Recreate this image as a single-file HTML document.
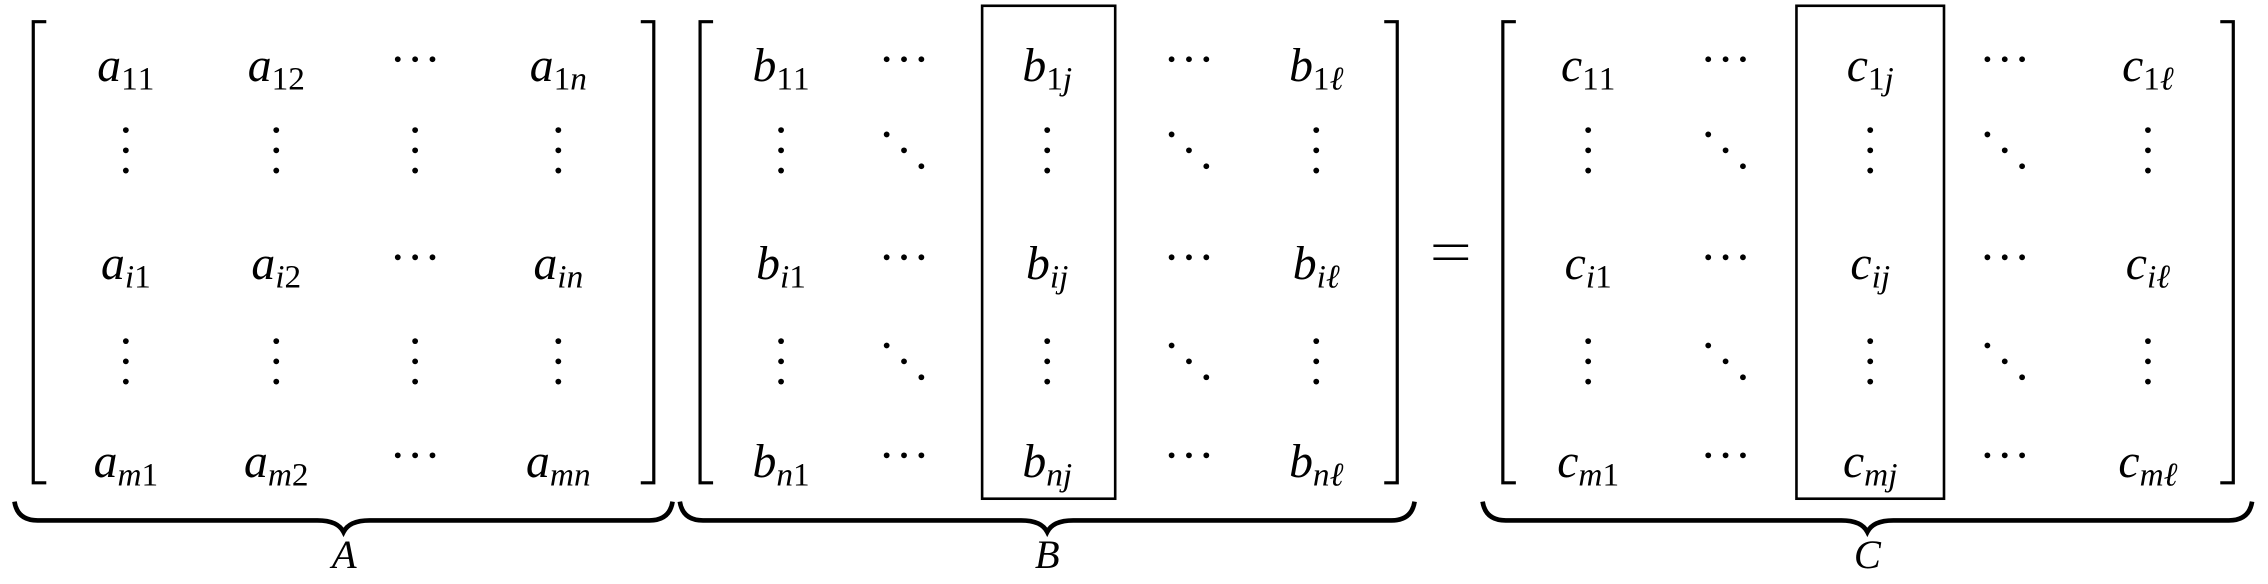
<!DOCTYPE html>
<html><head><meta charset="utf-8"><style>
html,body{margin:0;padding:0;background:#fff;}
svg{display:block;}
text{font-family:"Liberation Serif",serif;font-style:italic;fill:#000;}
.up{font-style:normal;}
</style></head><body>
<svg id="s" width="2268" height="584" viewBox="0 0 1568 404" preserveAspectRatio="none" xmlns="http://www.w3.org/2000/svg"></svg>
<script>
const NS="http://www.w3.org/2000/svg";
const svg=document.getElementById('s');
const rowsY=[56,193,330];
const vdotsY=[104,250];
function el(tag,attrs,parent){const e=document.createElementNS(NS,tag);for(const k in attrs)e.setAttribute(k,attrs[k]);(parent||svg).appendChild(e);return e;}
function entry(cx,y,main,sub,name){
  const t=el('text',{x:cx,y:y,'text-anchor':'middle','font-size':33});
  
  
  t.appendChild(document.createTextNode(main));
  let first=true;
  for(const ch of sub){
    const a={'font-size':23};
    if(first){a.dy=6;first=false;}
    if(/[0-9]/.test(ch))a['class']='up';
    const ts=el('tspan',a,t);
    ts.textContent=ch;
  }
}
function cdots(cx,y){
  const g=el('g',{});
  
  
  for(let i=-1;i<=1;i++)el('circle',{cx:cx+i*12,cy:y-15,r:2},g);
}
function vdots(cx,y){
  const g=el('g',{});
  
  
  for(let i=-1;i<=1;i++)el('circle',{cx:cx,cy:y+i*14,r:2},g);
}
function ddots(cx,y){
  const g=el('g',{});
  
  
  for(let i=-1;i<=1;i++)el('circle',{cx:cx+i*12,cy:y+i*11,r:2},g);
}
function bracket(x1,x2,name){
  const p=el('path',{d:`M${x1+9},15 H${x1} V334 H${x1+9} M${x2-9},15 H${x2} V334 H${x2-9}`,fill:'none',stroke:'#000','stroke-width':2.2});
  
  
}
function brace(x1,x2,label,lx,name){
  const m=(x1+x2)/2;
  const p=el('path',{d:`M${x1},347 Q${x1+2},360 ${x1+16},360 H${m-18} Q${m-4},360 ${m},368 Q${m+4},360 ${m+18},360 H${x2-16} Q${x2-2},360 ${x2},347`,fill:'none',stroke:'#000','stroke-width':3.2});
  
  
  const t=el('text',{x:lx,y:393,'text-anchor':'middle','font-size':28});
  
  
  t.textContent=label;
}
function box(x1,x2,name){
  const r=el('rect',{x:x1,y:4,width:x2-x1,height:341,fill:'none',stroke:'#000','stroke-width':1.8});
  
  
}
const aCols=[87,191,287,386];
const aSubs=[['11','12',null,'1n'],['i1','i2',null,'in'],['m1','m2',null,'mn']];
bracket(23,452,'bracket-a');
aSubs.forEach((row,r)=>row.forEach((s,c)=>{ if(s)entry(aCols[c],rowsY[r],'a',s,'entry-a'+s); else cdots(aCols[c],rowsY[r]); }));
vdotsY.forEach(y=>aCols.forEach(x=>vdots(x,y)));
brace(10,465,'A',238,'brace-a');
const bCols=[540,625,724,822,910];
const bSubs=[['11',null,'1j',null,'1ℓ'],['i1',null,'ij',null,'iℓ'],['n1',null,'nj',null,'nℓ']];
bracket(484,966,'bracket-b');
box(679,771,'column-j-box-b');
bSubs.forEach((row,r)=>row.forEach((s,c)=>{ if(s)entry(bCols[c],rowsY[r],'b',s,'entry-b'+s); else cdots(bCols[c],rowsY[r]); }));
vdotsY.forEach(y=>bCols.forEach((x,c)=>{ if(c%2)ddots(x,y); else vdots(x,y); }));
brace(470,978,'B',724,'brace-b');
const eq=el('path',{d:'M991,170 H1015 M991,179 H1015',stroke:'#000','stroke-width':1.8});


const cCols=[1098,1193,1293,1386,1485];
const cSubs=[['11',null,'1j',null,'1ℓ'],['i1',null,'ij',null,'iℓ'],['m1',null,'mj',null,'mℓ']];
bracket(1039,1544,'bracket-c');
box(1242,1344,'column-j-box-c');
cSubs.forEach((row,r)=>row.forEach((s,c)=>{ if(s)entry(cCols[c],rowsY[r],'c',s,'entry-c'+s); else cdots(cCols[c],rowsY[r]); }));
vdotsY.forEach(y=>cCols.forEach((x,c)=>{ if(c%2)ddots(x,y); else vdots(x,y); }));
brace(1025,1557,'C',1291,'brace-c');
</script>
</body></html>
